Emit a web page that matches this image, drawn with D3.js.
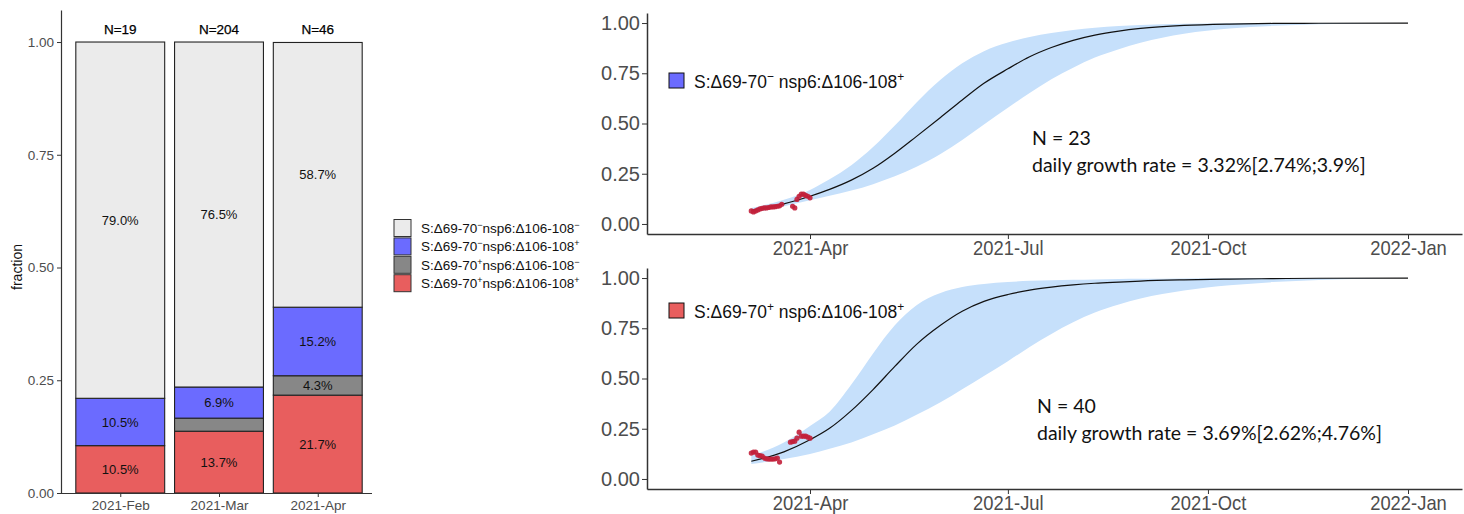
<!DOCTYPE html>
<html><head><meta charset="utf-8">
<script src="https://cdn.jsdelivr.net/npm/d3@7"></script>
<style>body{margin:0;background:#fff} svg{display:block}</style>
</head><body><svg id="c" width="1464" height="514"></svg>
<script>
// ---------- Left panel data ----------
const months = ["2021-Feb","2021-Mar","2021-Apr"];
const monthN = ["N=19","N=204","N=46"];
const fracPP = [0.105,0.137,0.217];   // S+ nsp6+
const fracPM = [0.000,0.029,0.043];   // S+ nsp6-
const fracMP = [0.105,0.069,0.152];   // S- nsp6+
const fracMM = [0.790,0.765,0.587];   // S- nsp6-
const labPP = ["10.5%","13.7%","21.7%"];
const labPM = ["","","4.3%"];
const labMP = ["10.5%","6.9%","15.2%"];
const labMM = ["79.0%","76.5%","58.7%"];
const stackKeys = ["pp","pm","mp","mm"];
const legendKeys = ["mm","mp","pm","pp"];
const signS = {mm:"−",mp:"−",pm:"+",pp:"+"};
const signN = {mm:"−",mp:"+",pm:"−",pp:"+"};
const fracTicks = [0,0.25,0.5,0.75,1];

// ---------- Right panels data ----------
const fitDates = ["2021-03-05","2021-03-20","2021-04-01","2021-04-10","2021-04-20","2021-04-30","2021-05-10","2021-05-20","2021-05-31","2021-06-10","2021-06-20","2021-07-01","2021-07-11","2021-07-21","2021-07-31","2021-08-10","2021-08-21","2021-08-31","2021-09-20","2021-10-11","2021-10-31","2021-11-21","2022-01-01"];
const fitA = [0.068,0.100,0.138,0.172,0.218,0.277,0.352,0.436,0.530,0.617,0.700,0.772,0.832,0.878,0.914,0.940,0.960,0.973,0.988,0.995,0.998,0.999,1.000];
const lowA = [0.053,0.088,0.118,0.140,0.166,0.198,0.237,0.285,0.348,0.418,0.495,0.578,0.652,0.720,0.778,0.828,0.870,0.902,0.947,0.973,0.986,0.994,1.000];
const upA  = [0.080,0.120,0.169,0.222,0.292,0.383,0.490,0.605,0.718,0.800,0.860,0.903,0.931,0.951,0.966,0.977,0.985,0.990,0.996,0.999,1.000,1.000,1.000];
const fitB = [0.088,0.135,0.195,0.252,0.340,0.445,0.560,0.670,0.765,0.835,0.884,0.918,0.940,0.955,0.966,0.974,0.980,0.985,0.991,0.995,0.997,0.999,1.000];
const lowB = [0.074,0.099,0.124,0.150,0.182,0.222,0.266,0.320,0.382,0.447,0.513,0.586,0.657,0.722,0.780,0.828,0.868,0.898,0.938,0.964,0.980,0.990,1.000];
const upB  = [0.115,0.182,0.264,0.335,0.470,0.625,0.765,0.865,0.925,0.955,0.970,0.980,0.986,0.989,0.991,0.993,0.995,0.996,0.998,0.999,1.000,1.000,1.000];

const ptDatesA = ["2021-03-05","2021-03-06","2021-03-07","2021-03-08","2021-03-09","2021-03-10","2021-03-11","2021-03-12","2021-03-13","2021-03-14","2021-03-15","2021-03-16","2021-03-17","2021-03-18","2021-03-19","2021-03-24","2021-03-25","2021-03-26","2021-03-27","2021-03-28","2021-03-29","2021-03-30","2021-03-31","2021-04-01"];
const ptValsA  = [0.065,0.060,0.065,0.070,0.075,0.078,0.080,0.080,0.082,0.085,0.085,0.086,0.088,0.090,0.098,0.088,0.080,0.122,0.138,0.148,0.148,0.142,0.138,0.130];
const ptDatesB = ["2021-03-05","2021-03-06","2021-03-07","2021-03-08","2021-03-09","2021-03-10","2021-03-11","2021-03-12","2021-03-13","2021-03-14","2021-03-15","2021-03-16","2021-03-17","2021-03-18","2021-03-23","2021-03-24","2021-03-25","2021-03-26","2021-03-27","2021-03-28","2021-03-29","2021-03-30","2021-03-31","2021-04-01"];
const ptValsB  = [0.129,0.134,0.134,0.119,0.116,0.114,0.104,0.100,0.099,0.099,0.099,0.100,0.104,0.084,0.183,0.186,0.188,0.203,0.233,0.213,0.213,0.213,0.208,0.203];

const xTickDates = ["2021-04-01","2021-07-01","2021-10-01","2022-01-01"];
const xTickLabels = ["2021-Apr","2021-Jul","2021-Oct","2022-Jan"];
const probTicks = [0,0.25,0.5,0.75,1];
const annotA = ["N = 23","daily growth rate = 3.32%[2.74%;3.9%]"];
const annotB = ["N = 40","daily growth rate = 3.69%[2.62%;4.76%]"];

// ---------- styles ----------
const colors = {mm:"#ebebeb", mp:"#6b6bff", pm:"#878787", pp:"#e85e5e"};
const AXIS = "#333333", TICKTXT = "#4d4d4d";
const FONT = "'Liberation Sans', Arial, sans-serif";

const svg = d3.select("#c").style("font-family", FONT);
const parse = d3.utcParse("%Y-%m-%d");

// ======== LEFT: stacked fractions ========
const rows = months.map((m,i)=>({month:m, n:monthN[i], pp:fracPP[i], pm:fracPM[i], mp:fracMP[i], mm:fracMM[i],
  lab:{pp:labPP[i], pm:labPM[i], mp:labMP[i], mm:labMM[i]}}));
const step = 98.75;
const xb = d3.scaleBand().domain(months).range([61 + step*0.6 - step*0.5, 61 + step*0.6 + step*2.5]).paddingInner(0.1).paddingOuter(0.05);
const xc = m => xb(m) + xb.bandwidth()/2;
const bw = xb.bandwidth();
const yb = d3.scaleLinear().domain([0,1.071]).range([493,10]);
const stack = d3.stack().keys(stackKeys)(rows);
const gL = svg.append("g");
stack.forEach(layer=>{
  const k = layer.key;
  gL.selectAll(null).data(layer).enter().append("rect")
    .attr("x", d=>xb(d.data.month)).attr("width", bw)
    .attr("y", d=>yb(d[1])).attr("height", d=>yb(d[0])-yb(d[1]))
    .attr("fill", colors[k]).attr("stroke","#222").attr("stroke-width",1.1);
});
stack.forEach(layer=>{
  const k = layer.key;
  gL.selectAll(null).data(layer).enter().append("text")
    .attr("x", d=>xc(d.data.month)).attr("y", d=>yb((d[0]+d[1])/2)).attr("dy","0.35em")
    .attr("text-anchor","middle").attr("font-size",13).attr("fill","#111")
    .text(d=>d.data.lab[k]);
});
gL.selectAll(null).data(rows).enter().append("text")
  .attr("x", d=>xc(d.month)).attr("y", yb(1)-13).attr("dy","0.35em")
  .attr("text-anchor","middle").attr("font-size",13.5).attr("fill","#000")
  .attr("stroke","#000").attr("stroke-width",0.25).text(d=>d.n);
// axes
const yAxL = gL.append("g").attr("transform","translate(61,0)")
  .call(d3.axisLeft(yb).tickValues(fracTicks).tickFormat(d3.format(".2f")).tickSize(4).tickPadding(3).tickSizeOuter(0));
const xAxL = gL.append("g").attr("transform","translate(0,493)")
  .call(d3.axisBottom(d3.scalePoint().domain(months).range([xc(months[0]), xc(months[2])])).tickSize(4).tickPadding(3).tickSizeOuter(0));
xAxL.select(".domain").attr("d", "M61,0.5H372");
[yAxL,xAxL].forEach(a=>{
  a.select(".domain").attr("stroke",AXIS).attr("stroke-width",1.2);
  a.selectAll(".tick line").attr("stroke",AXIS);
  a.selectAll(".tick text").attr("fill",TICKTXT).attr("font-size",13.5).attr("font-family",FONT);
});
gL.append("text").attr("transform","translate(17,267) rotate(-90)").attr("text-anchor","middle")
  .attr("dy","0.35em").attr("font-size",14).attr("fill","#111").text("fraction");

// legend left
function legendLabel(sel, k, space, supSize){
  sel.append("tspan").text("S:Δ69-70");
  sel.append("tspan").attr("baseline-shift","super").attr("font-size",supSize).text(signS[k]);
  sel.append("tspan").text((space?" ":"")+"nsp6:Δ106-108");
  sel.append("tspan").attr("baseline-shift","super").attr("font-size",supSize).text(signN[k]);
}
const gLeg = svg.append("g");
legendKeys.forEach((k,i)=>{
  const cy = 228 + i*18.4;
  gLeg.append("rect").attr("x",394).attr("y",cy-8.5).attr("width",17).attr("height",17)
    .attr("fill",colors[k]).attr("stroke","#333").attr("stroke-width",1);
  const t = gLeg.append("text").attr("x",421).attr("y",cy+5).attr("font-size",13.5).attr("fill","#111");
  legendLabel(t,k,false,9);
});

// ======== RIGHT panels ========
function drawPanel(o){
  const g = svg.append("g");
  const x = d3.scaleUtc().domain([parse("2021-04-01"), parse("2022-01-01")]).range([810,1408]);
  x.domain([x.invert(647), x.invert(1462)]).range([647,1462]);
  const y = d3.scaleLinear().domain([-0.05,1.05]).range([o.bottom, o.top]);
  const data = fitDates.map((d,i)=>({d:parse(d), f:o.fit[i], lo:o.lo[i], hi:o.hi[i]}));
  g.append("path").datum(data)
    .attr("d", d3.area().x(d=>x(d.d)).y0(d=>y(d.lo)).y1(d=>y(d.hi)).curve(d3.curveMonotoneX))
    .attr("fill","#c6e0fb");
  g.append("path").datum(data)
    .attr("d", d3.line().x(d=>x(d.d)).y(d=>y(d.f)).curve(d3.curveMonotoneX))
    .attr("fill","none").attr("stroke","#111").attr("stroke-width",1.2);
  const pts = o.pd.map((d,i)=>({d:parse(d), v:o.pv[i]}));
  g.selectAll(null).data(pts).enter().append("circle")
    .attr("cx",d=>x(d.d)).attr("cy",d=>y(d.v)).attr("r",2.6)
    .attr("fill","#c21f3a").attr("opacity",0.9);
  const ya = g.append("g").attr("transform","translate(647,0)")
    .call(d3.axisLeft(y).tickValues(probTicks).tickFormat(d3.format(".2f")).tickSize(5).tickPadding(2).tickSizeOuter(0));
  const xa = g.append("g").attr("transform",`translate(0,${o.bottom})`)
    .call(d3.axisBottom(x).tickValues(xTickDates.map(parse)).tickFormat((d,i)=>xTickLabels[i]).tickSize(5).tickPadding(2).tickSizeOuter(0));
  [ya,xa].forEach(a=>{
    a.select(".domain").attr("stroke",AXIS).attr("stroke-width",1.5);
    a.selectAll(".tick line").attr("stroke",AXIS);
    a.selectAll(".tick text").attr("fill",TICKTXT).attr("font-size",20).attr("font-family",FONT);
  });
  xa.selectAll(".tick text").attr("transform","scale(0.92,1)");
  // legend
  g.append("rect").attr("x",669).attr("y",o.legY-15).attr("width",15).attr("height",15)
    .attr("fill",colors[o.key]).attr("stroke","#111").attr("stroke-width",1);
  const t = g.append("text").attr("x",694).attr("y",o.legY).attr("font-size",19).attr("fill","#111")
    .attr("transform",`translate(${694*0.08},0) scale(0.92,1)`);
  legendLabel(t,o.key,true,13);
  // annotation
  o.annot.forEach((s,i)=>{
    g.append("text").attr("x",o.annX).attr("y",o.annY + i*26.5).attr("font-family","Lato, 'Open Sans', sans-serif")
      .attr("font-size",19.5).attr("fill","#111").text(s);
  });
}
drawPanel({top:13, bottom:234, fit:fitA, lo:lowA, hi:upA, pd:ptDatesA, pv:ptValsA, key:"mp", legY:88, annot:annotA, annX:1032, annY:145});
drawPanel({top:268, bottom:489, fit:fitB, lo:lowB, hi:upB, pd:ptDatesB, pv:ptValsB, key:"pp", legY:318, annot:annotB, annX:1037, annY:413});
</script></body></html>
